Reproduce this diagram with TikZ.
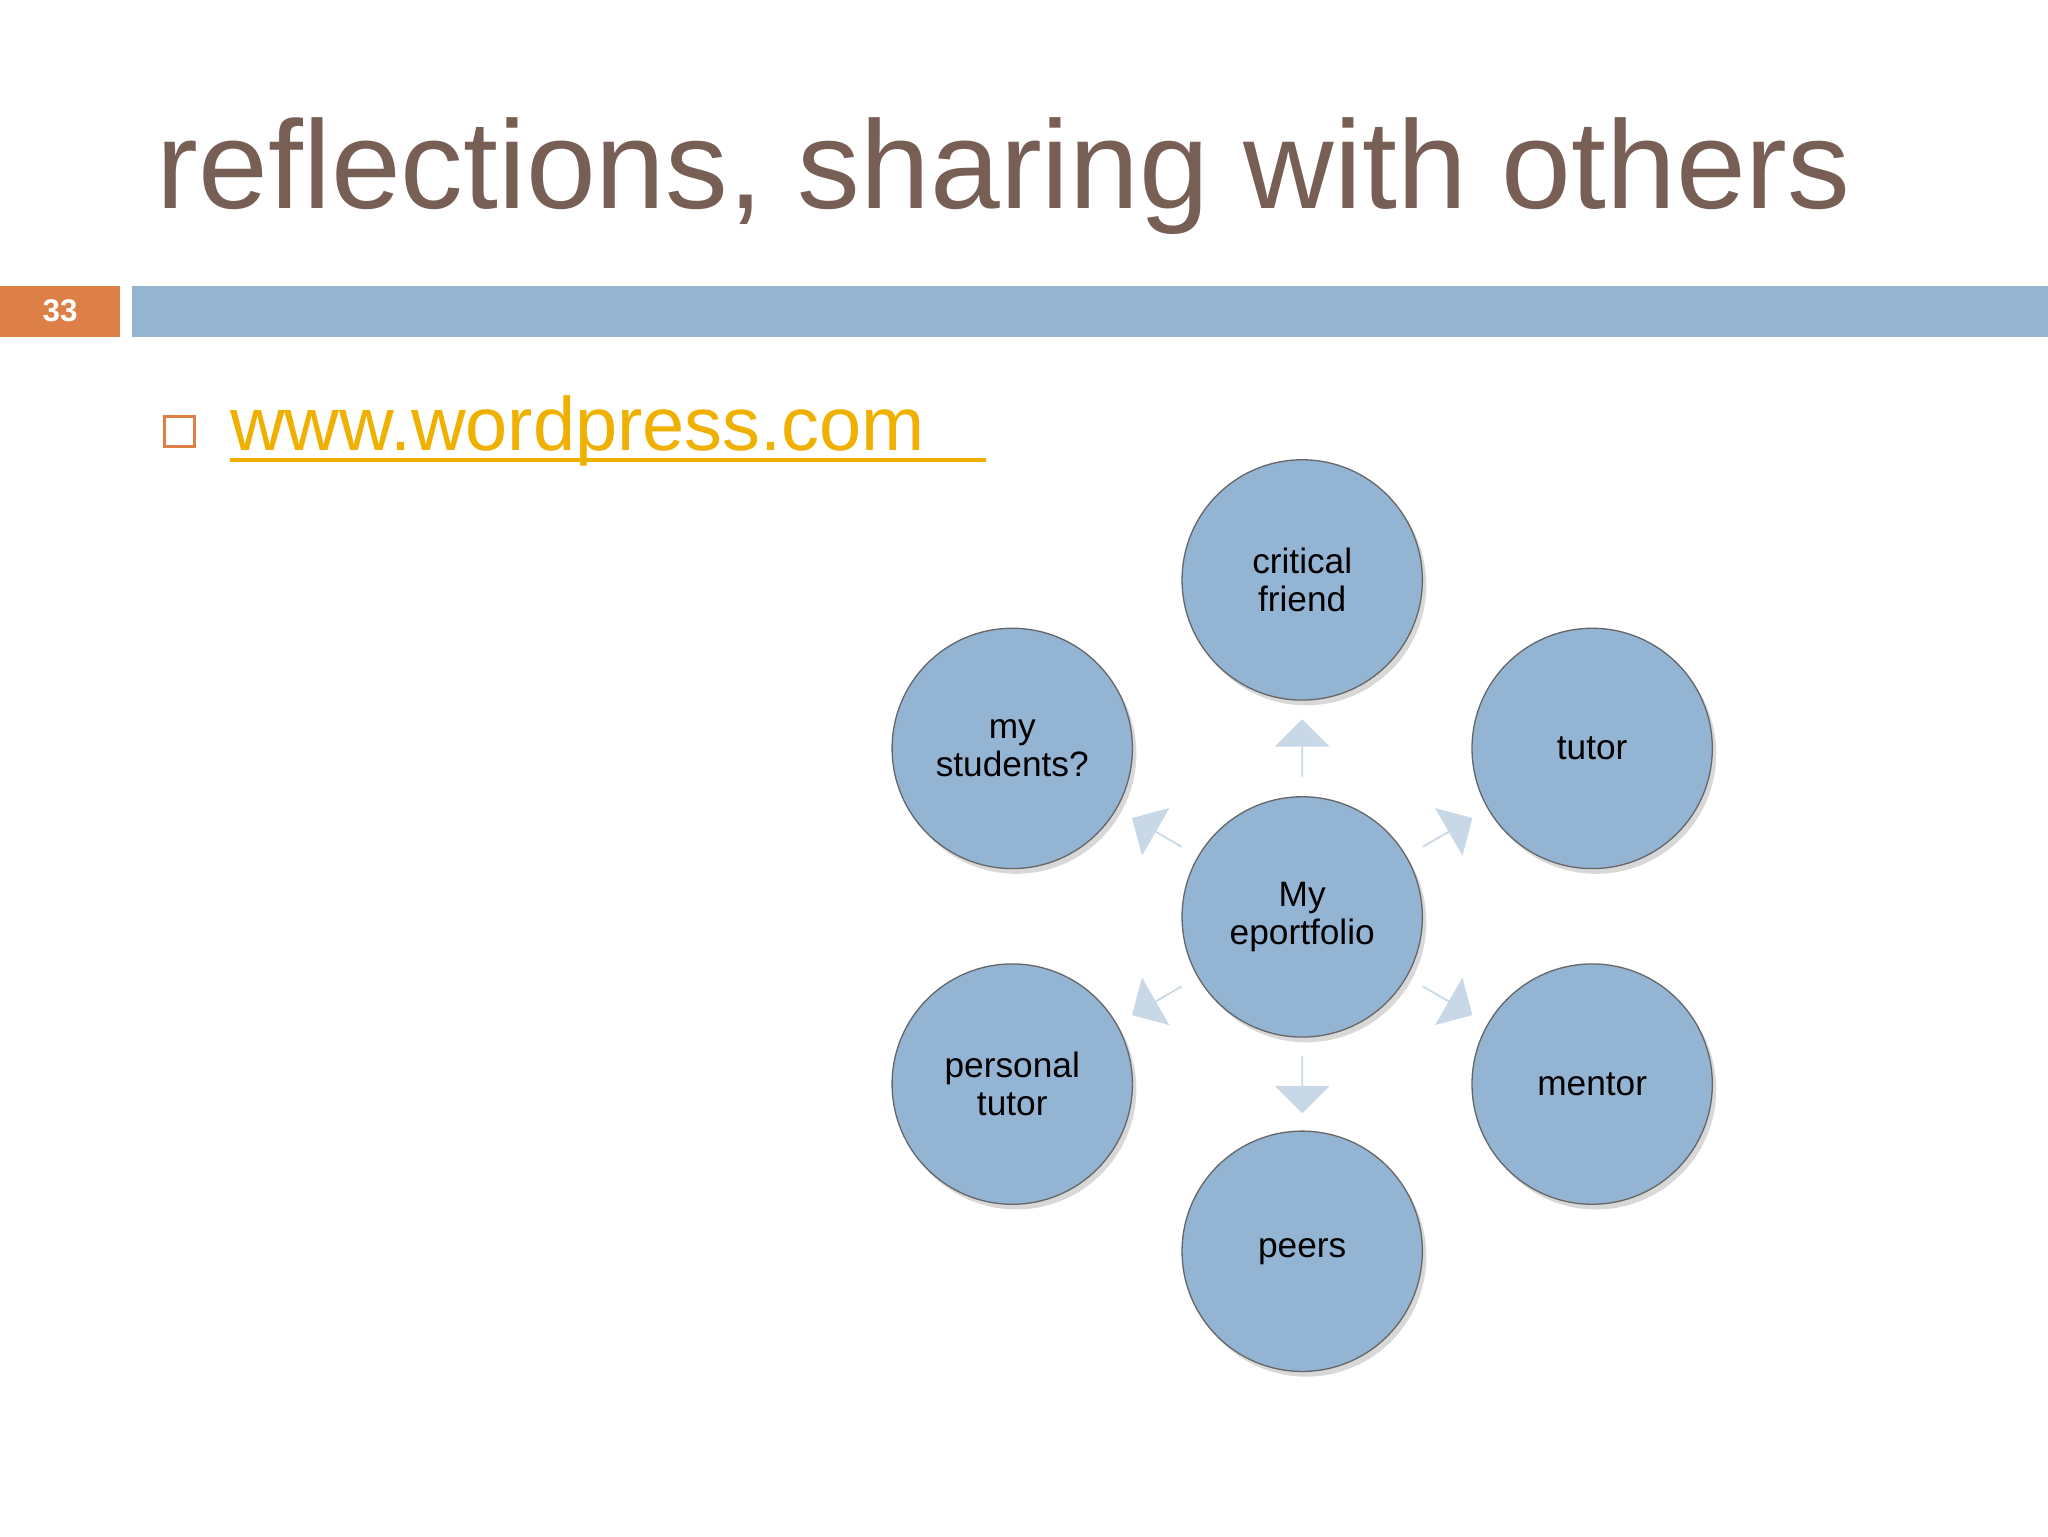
\documentclass[tikz,border=0pt]{standalone}
\usepackage{fontspec}
\setmainfont{Liberation Sans}
\usetikzlibrary{shapes.arrows,shadows}
\definecolor{titlec}{HTML}{775F55}
\definecolor{barblue}{HTML}{94B4CF}
\definecolor{barorange}{HTML}{DD8047}
\definecolor{linkc}{HTML}{F0B000}
\definecolor{circ}{HTML}{94B4D4}
\definecolor{arr}{HTML}{C9D8E6}
\tikzset{
 bub/.style={circle,minimum size=184pt,fill=circ,draw=gray!80!black,line width=1pt,align=center,font=\fontsize{27}{29}\selectfont,drop shadow={shadow xshift=3pt,shadow yshift=-4pt,opacity=0.3}},
 barr/.style={single arrow,fill=arr,minimum height=44pt,minimum width=42pt,single arrow head extend=6pt,inner sep=0pt}
}
\begin{document}
\begin{tikzpicture}[x=1pt,y=-1pt]
\useasboundingbox (0,0) rectangle (1568,1176);
\fill[white] (0,0) rectangle (1568,1176);
\node[anchor=base west,text=titlec,font=\fontsize{96}{100}\selectfont,inner sep=0] (title) at (120,160) {reflections, sharing with others};
\fill[barorange] (0,219) rectangle (92,258);
\fill[barblue] (101,219) rectangle (1568,258);
\node[text=white,font=\bfseries\fontsize{24}{26}\selectfont] (num) at (46,238) {33};
\draw[barorange,line width=2pt] (126,319) rectangle (149,342);
\node[anchor=base west,text=linkc,font=\fontsize{58}{60}\selectfont,inner sep=0] (link) at (176,345) {www.wordpress.com};
\draw[linkc,line width=3pt] (176,352) -- (755,352);
\node[bub] (c) at (997,702) {My\\eportfolio};
\node[bub] (n1) at (997,444) {critical\\friend};
\node[bub] (n2) at (1219,573) {tutor};
\node[bub] (n3) at (1219,830) {mentor};
\node[bub] (n4) at (997,958) {peers};
\node[bub] (n5) at (775,830) {personal\\tutor};
\node[bub] (n6) at (775,573) {my\\students?};
\foreach \n/\a in {n1/90,n2/30,n3/-30,n4/-90,n5/-150,n6/150}{
  \path (c) -- (\n) node[midway,barr,rotate=\a,sloped=false] {};
}
\end{tikzpicture}
\end{document}
